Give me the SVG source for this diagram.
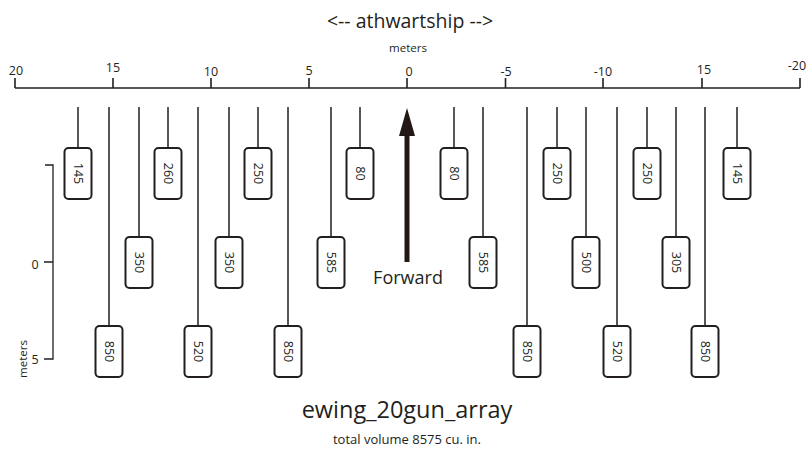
<svg xmlns="http://www.w3.org/2000/svg" width="809" height="449" viewBox="0 0 809 449">
<style>
text{font-family:"Open Sans","Noto Sans","Liberation Sans",sans-serif;fill:#231f20}
.ax{stroke:#231f20;stroke-width:1.6;fill:none}
.ln{stroke:#231f20;stroke-width:1.5;fill:none}
.bx{fill:#fff;stroke:#231f20;stroke-width:2}
.bt{font-size:12.5px;text-anchor:middle;dominant-baseline:central}
.tl{font-size:12.5px;text-anchor:middle}
</style>
<rect width="809" height="449" fill="#fff"/>
<g id="axis">
<text x="410" y="28" style="font-size:19.5px" text-anchor="middle">&lt;-- athwartship --&gt;</text>
<text x="408" y="52" style="font-size:11.5px" text-anchor="middle">meters</text>
<path class="ax" d="M15 88H800M15 78V88M113 78V88M211 78V88M309 78V88M407 78V88M505.5 78V88M603 78V88M702 78V88M800 78V88"/>
<text class="tl" x="16" y="75">20</text>
<text class="tl" x="113" y="72">15</text>
<text class="tl" x="211" y="76">10</text>
<text class="tl" x="309" y="75">5</text>
<text class="tl" x="409" y="76">0</text>
<text class="tl" x="506" y="76">-5</text>
<text class="tl" x="603" y="76">-10</text>
<text class="tl" x="704" y="74">15</text>
<text class="tl" x="797" y="70">-20</text>
</g>
<g id="depth-scale">
<path class="ax" d="M45 165H53V359H44M44 262H53" style="stroke-width:1.3"/>
<text x="35" y="269" style="font-size:12.5px" text-anchor="middle">0</text>
<text x="35" y="364" style="font-size:12.5px" text-anchor="middle">5</text>
<text transform="translate(27 359) rotate(-90)" style="font-size:11.5px" text-anchor="middle">meters</text>
</g>
<g id="connectors">
<path class="ln" d="M78 107V148M168 107V148M258 107V148M360 107V148M454 107V148M557 107V148M647 107V148M737 107V148"/>
<path class="ln" d="M139 107V237M229 107V237M331 107V237M483 107V237M586 107V237M676 107V237"/>
<path class="ln" d="M109 107V326M198 107V326M288 107V326M527 107V326M617 107V326M705 107V326"/>
</g>
<g id="forward">
<path d="M407 135V262" stroke="#231815" stroke-width="5" fill="none"/>
<path d="M407 108L399 136H415Z" fill="#231815"/>
<text x="408" y="284" style="font-size:18px" text-anchor="middle">Forward</text>
</g>
<g id="g1"><rect class="bx" x="64.5" y="148" width="27" height="51" rx="4"/><text class="bt" transform="translate(78 173.5) rotate(90)">145</text></g>
<g id="g2"><rect class="bx" x="95.5" y="326" width="27" height="51" rx="4"/><text class="bt" transform="translate(109 351.5) rotate(90)">850</text></g>
<g id="g3"><rect class="bx" x="125.5" y="237" width="27" height="51" rx="4"/><text class="bt" transform="translate(139 262.5) rotate(90)">350</text></g>
<g id="g4"><rect class="bx" x="154.5" y="148" width="27" height="51" rx="4"/><text class="bt" transform="translate(168 173.5) rotate(90)">260</text></g>
<g id="g5"><rect class="bx" x="184.5" y="326" width="27" height="51" rx="4"/><text class="bt" transform="translate(198 351.5) rotate(90)">520</text></g>
<g id="g6"><rect class="bx" x="215.5" y="237" width="27" height="51" rx="4"/><text class="bt" transform="translate(229 262.5) rotate(90)">350</text></g>
<g id="g7"><rect class="bx" x="244.5" y="148" width="27" height="51" rx="4"/><text class="bt" transform="translate(258 173.5) rotate(90)">250</text></g>
<g id="g8"><rect class="bx" x="274.5" y="326" width="27" height="51" rx="4"/><text class="bt" transform="translate(288 351.5) rotate(90)">850</text></g>
<g id="g9"><rect class="bx" x="317.5" y="237" width="27" height="51" rx="4"/><text class="bt" transform="translate(331 262.5) rotate(90)">585</text></g>
<g id="g10"><rect class="bx" x="346.5" y="148" width="27" height="51" rx="4"/><text class="bt" transform="translate(360 173.5) rotate(90)">80</text></g>
<g id="g11"><rect class="bx" x="440.5" y="148" width="27" height="51" rx="4"/><text class="bt" transform="translate(454 173.5) rotate(90)">80</text></g>
<g id="g12"><rect class="bx" x="469.5" y="237" width="27" height="51" rx="4"/><text class="bt" transform="translate(483 262.5) rotate(90)">585</text></g>
<g id="g13"><rect class="bx" x="513.5" y="326" width="27" height="51" rx="4"/><text class="bt" transform="translate(527 351.5) rotate(90)">850</text></g>
<g id="g14"><rect class="bx" x="543.5" y="148" width="27" height="51" rx="4"/><text class="bt" transform="translate(557 173.5) rotate(90)">250</text></g>
<g id="g15"><rect class="bx" x="572.5" y="237" width="27" height="51" rx="4"/><text class="bt" transform="translate(586 262.5) rotate(90)">500</text></g>
<g id="g16"><rect class="bx" x="603.5" y="326" width="27" height="51" rx="4"/><text class="bt" transform="translate(617 351.5) rotate(90)">520</text></g>
<g id="g17"><rect class="bx" x="633.5" y="148" width="27" height="51" rx="4"/><text class="bt" transform="translate(647 173.5) rotate(90)">250</text></g>
<g id="g18"><rect class="bx" x="662.5" y="237" width="27" height="51" rx="4"/><text class="bt" transform="translate(676 262.5) rotate(90)">305</text></g>
<g id="g19"><rect class="bx" x="691.5" y="326" width="27" height="51" rx="4"/><text class="bt" transform="translate(705 351.5) rotate(90)">850</text></g>
<g id="g20"><rect class="bx" x="723.5" y="148" width="27" height="51" rx="4"/><text class="bt" transform="translate(737 173.5) rotate(90)">145</text></g>
<g id="titles">
<text x="407" y="418" style="font-size:23.5px" text-anchor="middle">ewing_20gun_array</text>
<text x="407" y="444" style="font-size:13px" text-anchor="middle">total volume 8575 cu. in.</text>
</g>
</svg>
